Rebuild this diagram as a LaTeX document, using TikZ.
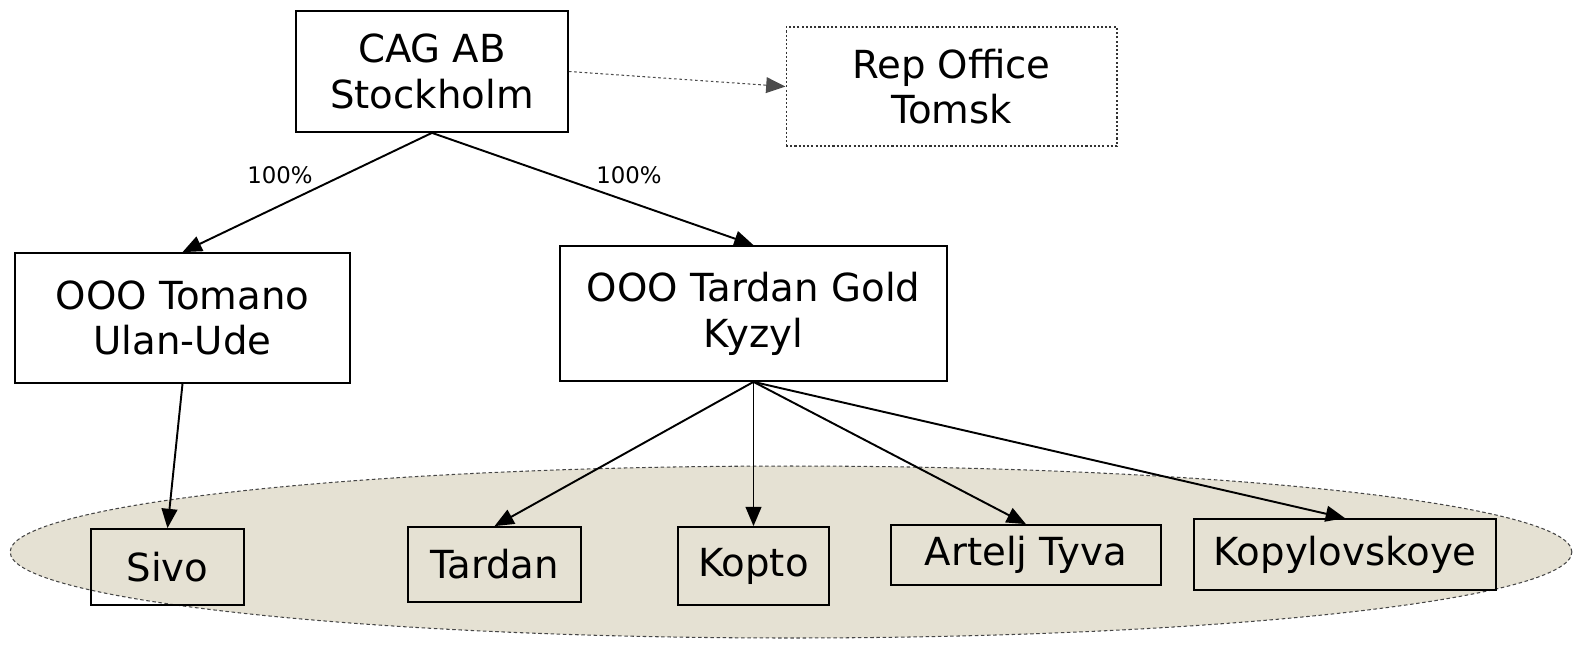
\documentclass[tikz,border=0pt]{standalone}
\usepackage{fontspec}
\setmainfont{DejaVu Sans}
\usetikzlibrary{arrows.meta}

\definecolor{ovalfill}{RGB}{229,225,211}
\definecolor{ovalline}{RGB}{70,70,70}

\tikzset{
	entity/.style={draw, line width=1pt, align=center, font=\fontsize{22}{26}\selectfont},
	repbox/.style={entity, draw=black!80, dash pattern=on 1.2pt off 1.2pt, line width=0.6pt},
	owns/.style={-{Triangle[length=11pt,width=9pt]}, line width=1.1pt},
	pct/.style={font=\fontsize{13}{15}\selectfont}
}

\begin{document}
\begin{tikzpicture}[x=0.02cm, y=-0.02cm]
			
			\useasboundingbox (0,0) rectangle (1582,670);
			
			% shaded oval behind the bottom row
			\draw[fill=ovalfill, draw=ovalline, dash pattern=on 2pt off 1.5pt, line width=0.6pt]
			(791,552) ellipse [x radius=15.62cm, y radius=1.72cm];
			
			\node[entity, minimum width=5.44cm, minimum height=2.42cm] (cag) at (432,71.5) {CAG AB\\Stockholm};
			\node[repbox, minimum width=6.62cm, minimum height=2.38cm] (rep) at (951.5,86.5) {Rep Office\\Tomsk};
			
			\node[entity, minimum width=6.7cm, minimum height=2.6cm] (tomano) at (182.5,318) {OOO Tomano\\Ulan-Ude};
			\node[entity, minimum width=7.74cm, minimum height=2.7cm] (tardangold) at (753.5,313.5) {OOO Tardan Gold\\Kyzyl};
			
			\node[entity, minimum width=3.06cm, minimum height=1.52cm] (sivo) at (167.5,567) {Sivo};
			\node[entity, minimum width=3.46cm, minimum height=1.5cm] (tardan) at (494.5,564.5) {Tardan};
			\node[entity, minimum width=3.02cm, minimum height=1.56cm] (kopto) at (753.5,566) {Kopto};
			\node[entity, minimum width=5.4cm, minimum height=1.2cm] (artelj) at (1026,555) {Artelj Tyva};
			\node[entity, minimum width=6.04cm, minimum height=1.42cm] (kopyl) at (1345,554.5) {Kopylovskoye};
			
			\draw[owns] (cag.south) -- (tomano.north);
			\draw[owns] (cag.south) -- (tardangold.north);
			\node[pct] (pctleft) at (280,175) {100\%};
			\node[pct] (pctright) at (629,175) {100\%};
			
			\draw[-{Triangle[length=11pt,width=9pt]}, black!70, dash pattern=on 1.5pt off 1.5pt, line width=0.6pt]
			(cag.east) -- (rep.west);
			
			\draw[owns] (tomano.south) -- (sivo.north);
			\foreach \t in {tardan,kopto,artelj,kopyl}{
				\draw[owns] (tardangold.south) -- (\t.north);
			}
			
		\end{tikzpicture}
\end{document}
